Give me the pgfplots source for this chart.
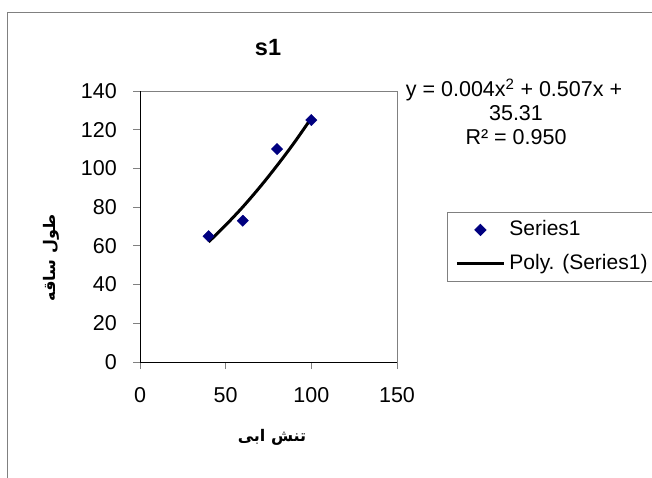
\documentclass[border=0pt]{standalone}
\usepackage{pgfplots}
\pgfplotsset{compat=1.18}
\usepackage{fontspec}
\setmainfont{Liberation Sans}
\newfontfamily\arabicfont[Script=Arabic]{DejaVu Sans}
\TeXXeTstate=1
\definecolor{navy}{RGB}{0,0,128}
\definecolor{framegray}{RGB}{128,128,128}

\begin{document}
\begin{tikzpicture}
  \path[use as bounding box] (0pt,0pt) rectangle (652pt,-477pt);
  % outer chart frame (only top and left are visible)
  \draw[framegray, line width=0.8pt] (7.5pt,-480pt) -- (7.5pt,-12.5pt) -- (660pt,-12.5pt);

  \begin{axis}[
      name=ax,
      at={(140pt,-362pt)},
      anchor=south west,
      scale only axis,
      width=257pt,
      height=271pt,
      xmin=0, xmax=150,
      ymin=0, ymax=140,
      xtick={0,50,100,150},
      ytick={0,20,...,140},
      tick align=outside,
      major tick length=7pt,
      tick style={framegray, line width=0.8pt},
      axis line style={framegray, line width=0.8pt},
      xtick pos=bottom,
      ytick pos=left,
      /pgf/number format/assume math mode=true,
      tick label style={font=\fontsize{21.5}{25}\selectfont},
      yticklabel style={anchor=east, inner sep=0pt, xshift=-16pt},
      xticklabel style={anchor=north, inner sep=0pt, yshift=-18pt},
      legend style={
        at={(1.1946,0.5535)}, anchor=north west,
        draw=framegray, line width=0.8pt,
        font=\fontsize{21}{24}\selectfont,
        inner xsep=8pt, inner ysep=8pt,
        row sep=15pt,
        nodes={inner xsep=4pt, inner ysep=0pt, text height=15pt, text depth=4pt},
        legend cell align=left,
      },
      legend image code/.code={\draw[mark repeat=2, mark phase=2, #1]
        plot coordinates {(0pt,0pt) (23.5pt,0pt) (47pt,0pt)};},
      clip=false,
    ]
    \addplot[only marks, mark=square*, mark size=4pt,
      mark options={rotate=45, fill=navy, draw=navy}, color=navy]
      coordinates {(40,65) (60,73) (80,110) (100,125)};
    \addlegendentry{Series1}
    \addplot[black, line width=3pt, smooth] coordinates {
      (40,62.0) (50,70.7) (60,80.1) (70,90.4) (80,101.5) (90,113.3) (100,126.0)
    };
    \addlegendentry{Poly. (Series1)}
  \end{axis}
  % left and bottom axis lines are black in the original
  \draw[black, line width=0.9pt] (ax.north west) -- (ax.south west) -- (ax.south east);

  \node[font=\bfseries\fontsize{23.5}{27}\selectfont] at (268pt,-48pt) {s1};
  \node[font=\fontsize{21.5}{24}\selectfont] at (514pt,-90pt) {y = 0.004x\textsuperscript{2} + 0.507x +};
  \node[font=\fontsize{21.5}{24}\selectfont] at (516pt,-113pt) {35.31};
  \node[font=\fontsize{21.5}{24}\selectfont] at (516pt,-137pt) {R² = 0.950};

  \node[font=\arabicfont\bfseries\fontsize{16}{20}\selectfont] at (272pt,-437pt) {\beginR تنش ابی\endR};
  \node[rotate=90, font=\arabicfont\bfseries\fontsize{16}{20}\selectfont] at (51pt,-258pt) {\beginR طول ساقه\endR};
\end{tikzpicture}
\end{document}
